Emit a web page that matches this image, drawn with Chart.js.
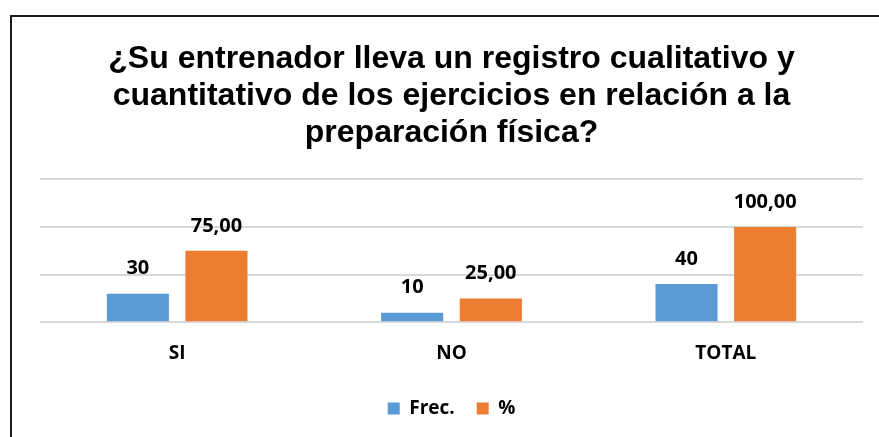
<!DOCTYPE html>
<html>
<head>
<meta charset="utf-8">
<script src="https://cdn.jsdelivr.net/npm/chart.js@4/dist/chart.umd.min.js"></script>
<style>
  html, body { margin: 0; padding: 0; background: #fff; }
  #wrap { position: relative; width: 879px; height: 437px; overflow: hidden; }
  #frame { position: absolute; left: 10px; top: 15px; width: 1000px; height: 500px;
           border-left: 2px solid #1a1a1a; border-top: 2px solid #1a1a1a; }
  canvas { position: absolute; left: 0; top: 0; }
</style>
</head>
<body>
<div id="wrap">
  <div id="frame"></div>
  <canvas id="myChart" width="879" height="437"></canvas>
</div>
<script>
const categories = ['SI', 'NO', 'TOTAL'];
const frec = [30, 10, 40];
const pct = [75, 25, 100];
const seriesNames = ['Frec.', '%'];
const yTicks = [0, 50, 100, 150];

const labelFont = '"Open Sans", Lato, sans-serif';

// labels over each bar: integers for Frec., two decimals with comma for %
const barLabels = {
    id: 'barLabels',
    afterDatasetsDraw(chart) {
        const ctx = chart.ctx;
        ctx.save();
        ctx.font = 'bold 20px ' + labelFont;
        ctx.fillStyle = '#000';
        ctx.textAlign = 'center';
        ctx.textBaseline = 'middle';
        chart.data.datasets.forEach((ds, i) => {
            chart.getDatasetMeta(i).data.forEach((bar, j) => {
                const v = ds.data[j];
                const txt = i === 1 ? v.toFixed(2).replace('.', ',') : String(v);
                ctx.fillText(txt, bar.x, bar.y - 25);
            });
        });
        ctx.restore();
    }
};

const ctx = document.getElementById('myChart').getContext('2d');
new Chart(ctx, {
    type: 'bar',
    data: {
        labels: categories,
        datasets: [{
            label: seriesNames[0],
            data: frec,
            backgroundColor: '#5B9BD5',
            barPercentage: 0.79,
            categoryPercentage: 0.573
        }, {
            label: seriesNames[1],
            data: pct,
            backgroundColor: '#ED7D31',
            barPercentage: 0.79,
            categoryPercentage: 0.573
        }]
    },
    options: {
        responsive: false,
        animation: false,
        layout: { padding: { left: 40, right: 16, bottom: 9 } },
        scales: {
            y: {
                min: 0,
                max: yTicks[yTicks.length - 1],
                afterBuildTicks: axis => { axis.ticks = yTicks.map(v => ({ value: v })); },
                ticks: { display: false },
                border: { display: false },
                grid: { color: '#d9d9d9', lineWidth: 2, drawTicks: false }
            },
            x: {
                grid: { display: false },
                border: { display: false },
                ticks: {
                    color: '#000',
                    padding: 12,
                    font: { family: labelFont, size: 19, weight: 'bold' }
                }
            }
        },
        plugins: {
            title: {
                display: true,
                text: [
                    '¿Su entrenador lleva un registro cualitativo y',
                    'cuantitativo de los ejercicios en relación a la',
                    'preparación física?'
                ],
                color: '#000',
                font: { family: '"Liberation Sans", Arial, sans-serif', size: 32, weight: 'bold', lineHeight: 1.15 },
                padding: { top: 41, bottom: 28 }
            },
            legend: {
                position: 'bottom',
                labels: {
                    color: '#000',
                    boxWidth: 12,
                    boxHeight: 12,
                    padding: 22,
                    font: { family: labelFont, size: 19, weight: 'bold' }
                }
            },
            tooltip: { enabled: false }
        }
    },
    plugins: [barLabels]
});
</script>
</body>
</html>
